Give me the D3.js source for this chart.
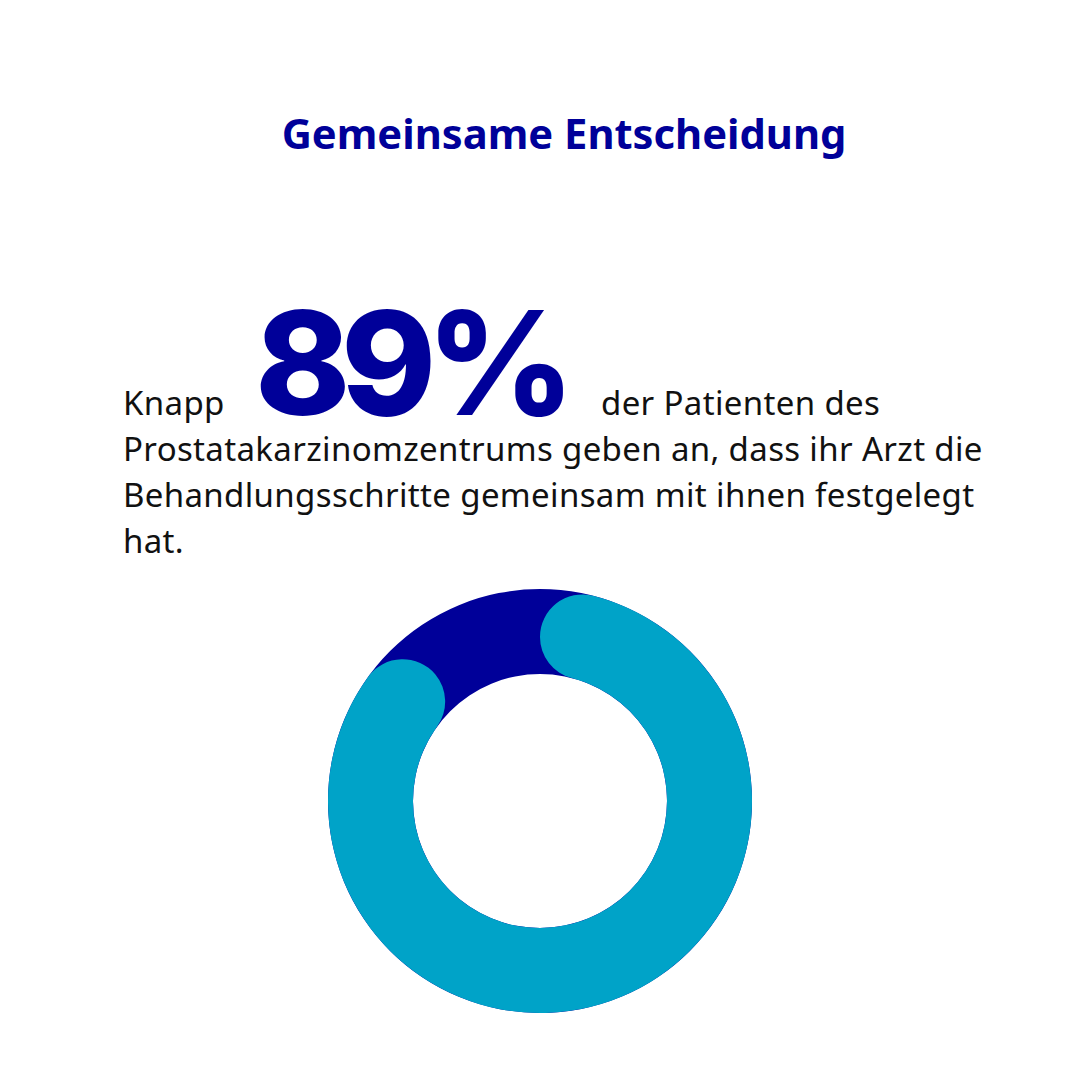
<!DOCTYPE html>
<html>
<head>
<meta charset="utf-8">
<script src="https://cdn.jsdelivr.net/npm/d3@7"></script>
<style>
  html, body { margin: 0; padding: 0; background: #ffffff; }
  svg { display: block; }
</style>
</head>
<body>
<div id="chart"></div>
<script>
const TITLE = "Gemeinsame Entscheidung";
const SHARE = 89;           // percent of patients
const TOTAL = 100;
const LEAD = "Knapp";
const LINE_1_REST = "der Patienten des";
const BODY_LINES = [
    "Prostatakarzinomzentrums geben an, dass ihr Arzt die",
    "Behandlungsschritte gemeinsam mit ihnen festgelegt",
    "hat.",
];

const NAVY = "#000099";
const CYAN = "#00a3c8";

const W = 1080, H = 1080;

const svg = d3.select("#chart")
    .append("svg")
    .attr("width", W)
    .attr("height", H);

// ── Title ──────────────────────────────────────────────────────────────────
svg.append("text")
    .attr("x", 564).attr("y", 149)
    .attr("text-anchor", "middle")
    .attr("font-family", "'Noto Sans', sans-serif")
    .attr("font-weight", 700)
    .attr("font-size", 41.7)
    .attr("fill", NAVY)
    .text(TITLE);

// ── Headline sentence ──────────────────────────────────────────────────────
const bodyFont = "'Noto Sans', sans-serif";
const bodySize = 33;
const bodySpacing = 0.35;
const left = 123;

function bodyText(sel) {
    return sel
        .attr("font-family", bodyFont)
        .attr("font-size", bodySize)
        .attr("letter-spacing", bodySpacing)
        .attr("fill", "#111");
}

svg.append("text")
    .attr("x", left).attr("y", 415)
    .call(bodyText)
    .text(LEAD);

// big number: squeeze to the width it has in the picture
const big = svg.append("text")
    .attr("x", 255).attr("y", 415)
    .attr("font-family", "Inter, sans-serif")
    .attr("font-weight", 800)
    .attr("font-size", 144)
    .attr("fill", NAVY)
    .text(`${SHARE}%`);
const bigW = big.node().getComputedTextLength();
big.attr("letter-spacing", (310 - bigW) / 3);

svg.append("text")
    .attr("x", 601).attr("y", 415)
    .call(bodyText)
    .text(LINE_1_REST);

svg.append("g")
    .selectAll("text")
    .data(BODY_LINES)
    .join("text")
    .attr("x", left)
    .attr("y", (d, i) => 461 + i * 46)
    .call(bodyText)
    .text(d => d);

// ── Donut ──────────────────────────────────────────────────────────────────
const cx = 540, cy = 801;
const outerR = 212, innerR = 127;

const angle = d3.scaleLinear().domain([0, TOTAL]).range([0, 2 * Math.PI]);

const ring = svg.append("g")
    .attr("transform", `translate(${cx},${cy})`);

// track
ring.append("path")
    .attr("fill", NAVY)
    .attr("d", d3.arc()
        .innerRadius(innerR)
        .outerRadius(outerR)
        .startAngle(0)
        .endAngle(angle(TOTAL))());

// value arc with rounded ends
ring.append("path")
    .attr("fill", CYAN)
    .attr("d", d3.arc()
        .innerRadius(innerR)
        .outerRadius(outerR)
        .cornerRadius((outerR - innerR) / 2)
        .startAngle(0)
        .endAngle(angle(SHARE))());
</script>
</body>
</html>
